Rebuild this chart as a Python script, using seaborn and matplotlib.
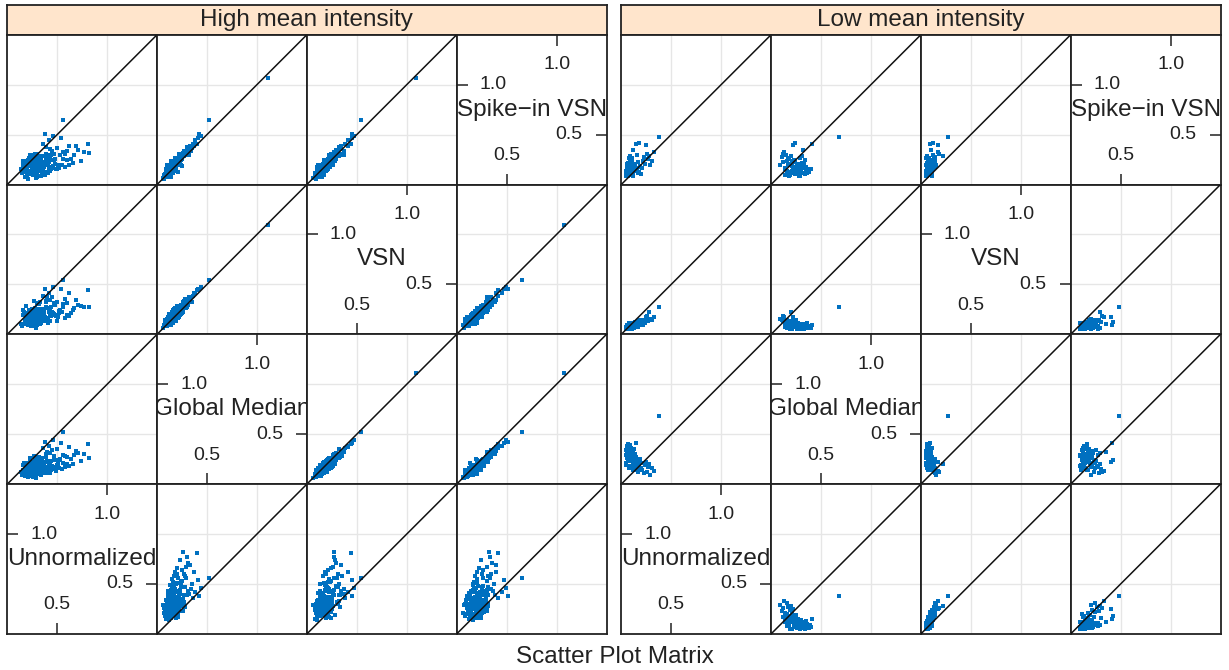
import numpy as np
import pandas as pd
import matplotlib
matplotlib.use("Agg")
import matplotlib.pyplot as plt
import seaborn as sns

# --- DATA ---
var_names = ["Unnormalized", "Global Median", "VSN", "Spike\u2212in VSN"]
panel_titles = ["High mean intensity", "Low mean intensity"]
diag_ticks = ["0.5", "1.0"]

hi_unnorm = [
    0.38, 0.21, 0.27, 0.45, 0.19, 0.33, 0.16, 0.52, 0.29, 0.24,
    0.17, 0.36, 0.28, 0.41, 0.22, 0.60, 0.31, 0.19, 0.48, 0.34,
    0.25, 0.43, 0.30, 0.39, 0.56, 0.15, 0.22, 0.35, 0.27, 0.50,
    0.23, 0.29, 0.37, 0.20, 0.31, 0.46, 0.58, 0.18, 0.42, 0.35,
    0.32, 0.47, 0.19, 0.28, 0.26, 0.21, 0.40, 0.55, 0.14, 0.30,
    0.44, 0.18, 0.24, 0.36, 0.33, 0.27, 0.40, 0.67, 0.20, 0.31,
    0.22, 0.39, 0.34, 0.26, 0.53, 0.23, 0.62, 0.45, 0.29, 0.17,
    0.35, 0.26, 0.30, 0.49, 0.20, 0.38, 0.18, 0.28, 0.24, 0.71,
    0.21, 0.43, 0.25, 0.28, 0.39, 0.47, 0.16, 0.33, 0.36, 0.58,
    0.30, 0.19, 0.37, 0.64, 0.27, 0.20, 0.23, 0.44, 0.51, 0.42,
    0.25, 0.35, 0.52, 0.18, 0.32, 0.77, 0.28, 0.41, 0.23, 0.37,
    0.48, 0.22, 0.60, 0.54, 0.30, 0.25, 0.39, 0.42, 0.69, 0.19,
    0.34, 0.27, 0.56, 0.31, 0.50, 0.36, 0.81, 0.24, 0.46, 0.74,
    0.29, 0.43, 0.62, 0.82, 0.38, 0.27, 0.21, 0.56, 1.90, 0.66,
    0.26, 0.31, 0.20, 0.40, 0.34, 0.22, 0.28, 0.46, 0.33, 0.24,
    0.37, 0.19, 0.29, 0.25, 0.43, 0.30, 0.35, 0.27, 0.32, 0.41,
]
hi_gmed = [
    0.12, 0.15, 0.09, 0.18, 0.21, 0.11, 0.14, 0.24, 0.17, 0.10,
    0.13, 0.19, 0.22, 0.16, 0.08, 0.27, 0.12, 0.20, 0.15, 0.25,
    0.18, 0.11, 0.14, 0.30, 0.21, 0.09, 0.16, 0.23, 0.13, 0.19,
    0.26, 0.12, 0.17, 0.10, 0.22, 0.15, 0.28, 0.14, 0.20, 0.11,
    0.16, 0.24, 0.13, 0.18, 0.07, 0.21, 0.32, 0.15, 0.12, 0.19,
    0.23, 0.10, 0.17, 0.14, 0.26, 0.20, 0.11, 0.29, 0.16, 0.13,
    0.19, 0.22, 0.09, 0.15, 0.25, 0.12, 0.18, 0.34, 0.14, 0.21,
    0.17, 0.11, 0.27, 0.13, 0.20, 0.16, 0.08, 0.24, 0.15, 0.31,
    0.12, 0.18, 0.22, 0.10, 0.14, 0.28, 0.19, 0.13, 0.36, 0.17,
    0.21, 0.15, 0.11, 0.25, 0.18, 0.09, 0.23, 0.14, 0.20, 0.38,
    0.13, 0.26, 0.16, 0.12, 0.19, 0.30, 0.15, 0.22, 0.10, 0.17,
    0.24, 0.14, 0.20, 0.41, 0.11, 0.18, 0.27, 0.13, 0.33, 0.16,
    0.21, 0.12, 0.29, 0.17, 0.35, 0.15, 0.40, 0.19, 0.44, 0.23,
    0.06, 0.31, 0.37, 0.26, 0.42, 0.28, 0.07, 0.52, 1.11, 0.20,
    0.14, 0.19, 0.11, 0.23, 0.16, 0.20, 0.13, 0.17, 0.22, 0.15,
    0.18, 0.12, 0.25, 0.16, 0.21, 0.10, 0.19, 0.14, 0.27, 0.17,
]
hi_vsn = [
    0.17, 0.11, 0.14, 0.22, 0.16, 0.15, 0.19, 0.23, 0.25, 0.08,
    0.10, 0.25, 0.24, 0.11, 0.14, 0.31, 0.10, 0.28, 0.19, 0.21,
    0.25, 0.13, 0.09, 0.32, 0.27, 0.08, 0.24, 0.19, 0.18, 0.13,
    0.22, 0.20, 0.18, 0.15, 0.17, 0.19, 0.35, 0.11, 0.22, 0.16,
    0.19, 0.20, 0.18, 0.26, 0.08, 0.17, 0.37, 0.22, 0.10, 0.23,
    0.27, 0.12, 0.13, 0.14, 0.32, 0.19, 0.14, 0.26, 0.21, 0.14,
    0.16, 0.27, 0.11, 0.19, 0.24, 0.18, 0.18, 0.37, 0.12, 0.22,
    0.19, 0.10, 0.31, 0.18, 0.17, 0.17, 0.11, 0.24, 0.21, 0.29,
    0.18, 0.19, 0.20, 0.14, 0.14, 0.31, 0.24, 0.10, 0.38, 0.16,
    0.21, 0.18, 0.17, 0.21, 0.20, 0.14, 0.22, 0.18, 0.17, 0.41,
    0.16, 0.24, 0.21, 0.13, 0.25, 0.27, 0.15, 0.26, 0.12, 0.13,
    0.29, 0.16, 0.19, 0.45, 0.14, 0.14, 0.33, 0.13, 0.34, 0.19,
    0.19, 0.16, 0.30, 0.23, 0.32, 0.17, 0.44, 0.18, 0.47, 0.28,
    0.06, 0.34, 0.41, 0.27, 0.45, 0.33, 0.09, 0.54, 1.09, 0.24,
    0.17, 0.18, 0.15, 0.26, 0.14, 0.24, 0.13, 0.21, 0.20, 0.19,
    0.22, 0.15, 0.24, 0.20, 0.23, 0.11, 0.17, 0.18, 0.30, 0.16,
]
hi_spike = [
    0.10, 0.20, 0.16, 0.25, 0.13, 0.19, 0.24, 0.20, 0.22, 0.12,
    0.18, 0.23, 0.31, 0.12, 0.11, 0.34, 0.14, 0.24, 0.21, 0.19,
    0.27, 0.18, 0.08, 0.38, 0.26, 0.12, 0.22, 0.20, 0.19, 0.16,
    0.30, 0.15, 0.20, 0.08, 0.22, 0.17, 0.31, 0.18, 0.23, 0.11,
    0.15, 0.25, 0.18, 0.20, 0.10, 0.25, 0.30, 0.20, 0.16, 0.18,
    0.30, 0.08, 0.19, 0.16, 0.29, 0.24, 0.13, 0.30, 0.16, 0.14,
    0.21, 0.27, 0.09, 0.22, 0.30, 0.14, 0.20, 0.34, 0.16, 0.21,
    0.15, 0.16, 0.31, 0.16, 0.22, 0.20, 0.08, 0.28, 0.20, 0.35,
    0.19, 0.14, 0.24, 0.20, 0.12, 0.31, 0.20, 0.15, 0.41, 0.18,
    0.25, 0.17, 0.12, 0.26, 0.20, 0.11, 0.28, 0.16, 0.20, 0.45,
    0.15, 0.29, 0.17, 0.16, 0.23, 0.33, 0.19, 0.21, 0.13, 0.18,
    0.26, 0.20, 0.25, 0.47, 0.10, 0.19, 0.31, 0.16, 0.39, 0.14,
    0.25, 0.14, 0.33, 0.23, 0.37, 0.21, 0.41, 0.24, 0.49, 0.24,
    0.07, 0.36, 0.39, 0.32, 0.51, 0.30, 0.06, 0.65, 1.07, 0.22,
    0.20, 0.16, 0.17, 0.24, 0.18, 0.27, 0.11, 0.19, 0.25, 0.22,
    0.21, 0.18, 0.28, 0.17, 0.27, 0.13, 0.21, 0.16, 0.29, 0.20,
]

lo_unnorm = [
    0.06, 0.09, 0.12, 0.07, 0.15, 0.05, 0.10, 0.08, 0.13, 0.06,
    0.11, 0.07, 0.17, 0.09, 0.05, 0.14, 0.08, 0.19, 0.10, 0.06,
    0.12, 0.08, 0.22, 0.07, 0.11, 0.16, 0.05, 0.13, 0.09, 0.24,
    0.07, 0.10, 0.18, 0.06, 0.14, 0.08, 0.27, 0.11, 0.05, 0.20,
    0.09, 0.15, 0.07, 0.29, 0.12, 0.06, 0.17, 0.10, 0.23, 0.08,
    0.13, 0.31, 0.06, 0.16, 0.09, 0.21, 0.11, 0.26, 0.07, 0.14,
    0.33, 0.10, 0.19, 0.08, 0.25, 0.12, 0.18, 0.28, 0.15, 0.38,
]
lo_gmed = [
    0.31, 0.27, 0.14, 0.35, 0.27, 0.29, 0.33, 0.24, 0.28, 0.38,
    0.31, 0.26, 0.22, 0.34, 0.19, 0.30, 0.16, 0.25, 0.36, 0.27,
    0.18, 0.32, 0.21, 0.25, 0.29, 0.22, 0.34, 0.17, 0.39, 0.19,
    0.28, 0.24, 0.19, 0.30, 0.14, 0.36, 0.17, 0.26, 0.21, 0.16,
    0.31, 0.25, 0.33, 0.09, 0.21, 0.37, 0.12, 0.28, 0.11, 0.23,
    0.35, 0.16, 0.26, 0.15, 0.30, 0.14, 0.23, 0.12, 0.40, 0.19,
    0.13, 0.27, 0.21, 0.18, 0.22, 0.32, 0.24, 0.20, 0.41, 0.68,
]
lo_vsn = [
    0.08, 0.08, 0.07, 0.09, 0.11, 0.06, 0.05, 0.09, 0.10, 0.06,
    0.06, 0.07, 0.07, 0.10, 0.05, 0.08, 0.06, 0.14, 0.09, 0.09,
    0.11, 0.06, 0.09, 0.08, 0.05, 0.10, 0.07, 0.09, 0.07, 0.11,
    0.05, 0.08, 0.11, 0.06, 0.12, 0.11, 0.13, 0.09, 0.05, 0.09,
    0.06, 0.10, 0.07, 0.15, 0.08, 0.08, 0.13, 0.07, 0.14, 0.09,
    0.06, 0.14, 0.05, 0.12, 0.08, 0.10, 0.07, 0.18, 0.06, 0.11,
    0.17, 0.05, 0.13, 0.08, 0.17, 0.10, 0.12, 0.22, 0.09, 0.27,
]
lo_spike = [
    0.12, 0.15, 0.10, 0.18, 0.14, 0.09, 0.20, 0.11, 0.17, 0.13,
    0.22, 0.16, 0.12, 0.25, 0.10, 0.19, 0.14, 0.18, 0.12, 0.21,
    0.09, 0.17, 0.24, 0.13, 0.27, 0.15, 0.11, 0.20, 0.16, 0.21,
    0.09, 0.23, 0.13, 0.18, 0.16, 0.12, 0.26, 0.19, 0.14, 0.11,
    0.29, 0.17, 0.22, 0.20, 0.12, 0.15, 0.23, 0.10, 0.28, 0.18,
    0.14, 0.24, 0.20, 0.30, 0.13, 0.17, 0.25, 0.31, 0.16, 0.21,
    0.33, 0.11, 0.19, 0.27, 0.40, 0.35, 0.42, 0.29, 0.41, 0.48,
]

hi_df = pd.DataFrame(dict(zip(var_names, [hi_unnorm, hi_gmed, hi_vsn, hi_spike])))
lo_df = pd.DataFrame(dict(zip(var_names, [lo_unnorm, lo_gmed, lo_vsn, lo_spike])))

# --- STYLE ---
sns.set_style("white")
plt.rcParams['font.family'] = ['Liberation Sans', 'DejaVu Sans']

W, H = 1229, 670
cell = 149.8
lefts = [7.3, 621.3]
top = 34.7
strip_top = 5.3
lim = (0, 1.5)
point_col = "#0070C0"
grid_col = "#E6E6E6"
edge_col = "#222222"
big = 17.5
small = 14
tl = 0.11  # tick length in data units


def frame(ax):
    for sp in ax.spines.values():
        sp.set_visible(True)
        sp.set_color(edge_col)
        sp.set_linewidth(1.3)
    ax.set_xticks([])
    ax.set_yticks([])


def diag_panel(ax, name):
    ax.text(0.75, 0.75, name, ha='center', va='center', fontsize=big,
            color='#222222', clip_on=True)
    lo_t, hi_t = float(diag_ticks[0]), float(diag_ticks[1])
    kw = dict(color=edge_col, lw=1.1, solid_capstyle='butt')
    tk = dict(fontsize=small, color='#222222', va='center')
    ax.plot([hi_t, hi_t], [1.5, 1.5 - tl], **kw)
    ax.text(hi_t, 1.20, diag_ticks[1], ha='center', **tk)
    ax.plot([0, tl], [hi_t, hi_t], **kw)
    ax.text(0.23, hi_t, diag_ticks[1], ha='left', **tk)
    ax.plot([lo_t, lo_t], [0, tl], **kw)
    ax.text(lo_t, 0.29, diag_ticks[0], ha='center', **tk)
    ax.plot([1.5, 1.5 - tl], [lo_t, lo_t], **kw)
    ax.text(1.26, lo_t, diag_ticks[0], ha='right', **tk)


fig = plt.figure(figsize=(W / 100, H / 100), dpi=100)

for left, df, title in zip(lefts, [hi_df, lo_df], panel_titles):
    # strip
    sax = fig.add_axes([left / W, 1 - top / H, 4 * cell / W, (top - strip_top) / H])
    sax.set_facecolor("#FFE5CC")
    frame(sax)
    sax.text(0.5, 0.5, title, ha='center', va='center', fontsize=big,
             color='#222222', transform=sax.transAxes)

    for r in range(4):
        yv = 3 - r
        for c in range(4):
            xv = c
            x0 = left + c * cell
            y0 = top + r * cell
            ax = fig.add_axes([x0 / W, 1 - (y0 + cell) / H, cell / W, cell / H])
            if xv == yv:
                diag_panel(ax, var_names[xv])
            else:
                for g in (0.5, 1.0):
                    ax.axvline(g, color=grid_col, lw=1.0, zorder=0)
                    ax.axhline(g, color=grid_col, lw=1.0, zorder=0)
                sns.scatterplot(data=df, x=var_names[xv], y=var_names[yv], ax=ax,
                                marker='s', s=9, color=point_col, linewidth=0,
                                legend=False, zorder=2)
                ax.plot(lim, lim, color='#111111', lw=1.1, zorder=3)
            ax.set_xlim(lim)
            ax.set_ylim(lim)
            ax.set_xlabel('')
            ax.set_ylabel('')
            frame(ax)

fig.text(0.5, 1 - 657 / H, "Scatter Plot Matrix", ha='center', va='center',
         fontsize=big, color='#222222')

fig.savefig("out.png", dpi=100)
